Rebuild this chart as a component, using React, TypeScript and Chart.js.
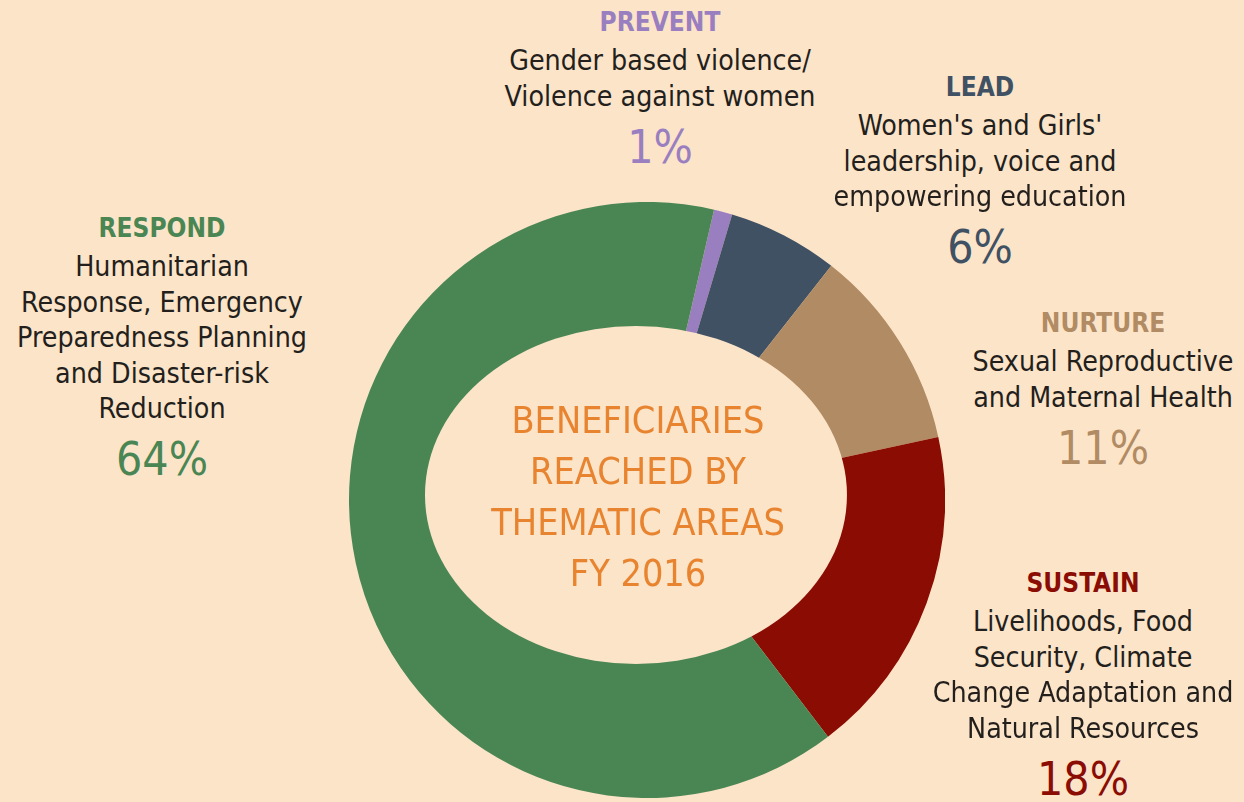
import React, { useEffect, useRef } from "react";
import { Chart, registerables } from "chart.js";

Chart.register(...registerables);

const categories = ["PREVENT", "LEAD", "NURTURE", "SUSTAIN", "RESPOND"];
const values = [1, 6, 11, 18, 64];
const colors = ["#9a7fc0", "#3f5163", "#b18b63", "#8a0c02", "#4a8653"];
const descriptions = [
  ["Gender based violence/", "Violence against women"],
  ["Women's and Girls'", "leadership, voice and", "empowering education"],
  ["Sexual Reproductive", "and Maternal Health"],
  ["Livelihoods, Food", "Security, Climate", "Change Adaptation and", "Natural Resources"],
  ["Humanitarian", "Response, Emergency", "Preparedness Planning", "and Disaster-risk", "Reduction"],
];
const centerLines = ["BENEFICIARIES", "REACHED BY", "THEMATIC AREAS", "FY 2016"];

const BG = "#fce4c9";
const FONT = "'DejaVu Sans Condensed', 'Liberation Sans Narrow', Roboto, sans-serif";

// label block placement (layout only)
const labelPos = [
  { x: 660, y: 22 },
  { x: 980, y: 87 },
  { x: 1103, y: 323 },
  { x: 1083, y: 583 },
  { x: 162, y: 228 },
];

const ellipseHole = {
  id: "ellipseHole",
  afterDatasetsDraw(chart: any) {
    const arc = chart.getDatasetMeta(0).data[0] as any;
    if (!arc) return;
    const R = arc.outerRadius;
    const ctx = chart.ctx;
    ctx.save();
    ctx.beginPath();
    ctx.ellipse(arc.x - 0.037 * R, arc.y - 0.017 * R, 0.708 * R, 0.567 * R, 0, 0, Math.PI * 2);
    ctx.fillStyle = BG;
    ctx.fill();
    ctx.restore();
  },
};

function Label({ i }: { i: number }) {
  const p = labelPos[i];
  const lines = descriptions[i];
  const lh = 35.5;
  const items: React.ReactNode[] = [];
  const base: React.CSSProperties = {
    position: "absolute",
    left: p.x,
    transform: "translate(-50%, -50%)",
    whiteSpace: "nowrap",
    fontFamily: FONT,
  };
  items.push(
    <div key="h" style={{ ...base, top: p.y, color: colors[i], fontWeight: 700, fontSize: 26 }}>
      {categories[i]}
    </div>
  );
  lines.forEach((l, k) => {
    items.push(
      <div key={"l" + k} style={{ ...base, top: p.y + 38 + k * lh, color: "#231f1c", fontSize: 28.3 }}>
        {l}
      </div>
    );
  });
  const last = p.y + 38 + (lines.length - 1) * lh;
  items.push(
    <div key="p" style={{ ...base, top: last + 51, color: colors[i], fontSize: 46, fontWeight: 300 }}>
      {values[i]}%
    </div>
  );
  return <>{items}</>;
}

export default function App() {
  const ref = useRef<HTMLCanvasElement>(null);
  useEffect(() => {
    document.body.style.margin = "0";
    const chart = new Chart(ref.current!, {
      type: "doughnut",
      data: {
        labels: categories,
        datasets: [
          {
            data: values,
            backgroundColor: colors,
            borderWidth: 0,
          },
        ],
      },
      options: {
        animation: false,
        responsive: false,
        rotation: 13,
        cutout: "50%",
        layout: { padding: 0 },
        plugins: { legend: { display: false }, tooltip: { enabled: false } },
      },
      plugins: [ellipseHole],
    });
    return () => chart.destroy();
  }, []);

  return (
    <div style={{ position: "relative", width: 1244, height: 802, background: BG, overflow: "hidden" }}>
      <canvas ref={ref} width={596} height={596} style={{ position: "absolute", left: 349, top: 202, width: 596, height: 596 }} />
      {categories.map((_, i) => (
        <Label key={i} i={i} />
      ))}
      {centerLines.map((t, k) => (
        <div
          key={t}
          style={{
            position: "absolute",
            left: 638,
            top: 420 + k * 51,
            transform: "translate(-50%, -50%)",
            whiteSpace: "nowrap",
            fontFamily: FONT,
            color: "#e8842f",
            fontSize: 37.5,
          }}
        >
          {t}
        </div>
      ))}
    </div>
  );
}
